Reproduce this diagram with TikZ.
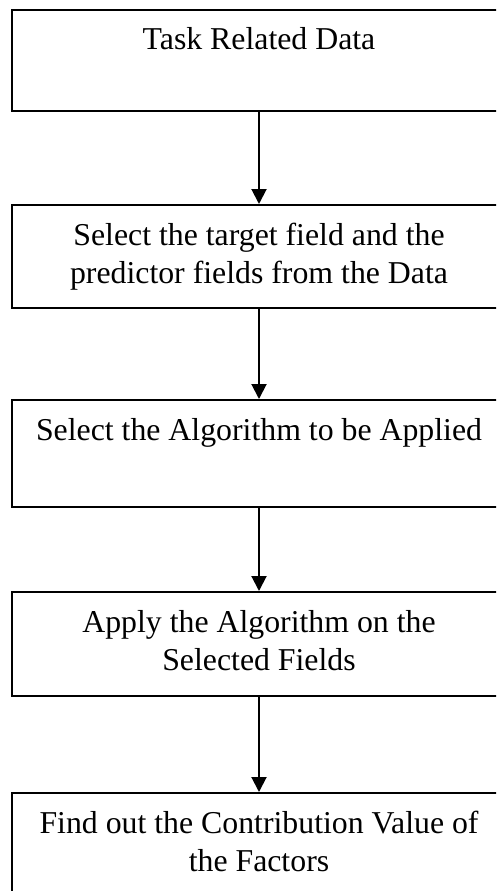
\documentclass[tikz,border=0pt]{standalone}
\usepackage{fontspec}
\setmainfont{Liberation Serif}
\usetikzlibrary{arrows.meta}
\begin{document}
\begin{tikzpicture}[x=1pt,y=-1pt,
  stepbox/.style={draw=black, line width=2pt, minimum width=494pt, inner sep=0pt},
  steptext/.style={font=\fontsize{31.8}{38}\selectfont, align=center, anchor=base, inner sep=0pt},
  flow/.style={line width=2pt, -{Triangle[length=15pt,width=15pt]}}]
\useasboundingbox (0,0) rectangle (496,891);
\clip (0,0) rectangle (496,891);

% process boxes
\node[stepbox, minimum height=101pt] (b1) at (259,60.5) {};
\node[stepbox, minimum height=103pt] (b2) at (259,256.5) {};
\node[stepbox, minimum height=107pt] (b3) at (259,453.5) {};
\node[stepbox, minimum height=104pt] (b4) at (259,644) {};
\node[stepbox, minimum height=104pt] (b5) at (259,845) {};

% box captions; the base anchor sits on the last line's baseline
\node[steptext] (t1) at (259,50) {Task Related Data};
\node[steptext] (t2) at (259,283) {Select the target field and the\\predictor fields from the Data};
\node[steptext] (t3) at (259,440) {Select the Algorithm to be Applied};
\node[steptext] (t4) at (259,670) {Apply the Algorithm on the\\Selected Fields};
\node[steptext] (t5) at (259,871) {Find out the Contribution Value of\\the Factors};

% flow arrows
\draw[flow] (b1) -- (b2);
\draw[flow] (b2) -- (b3);
\draw[flow] (b3) -- (b4);
\draw[flow] (b4) -- (b5);
\end{tikzpicture}
\end{document}
